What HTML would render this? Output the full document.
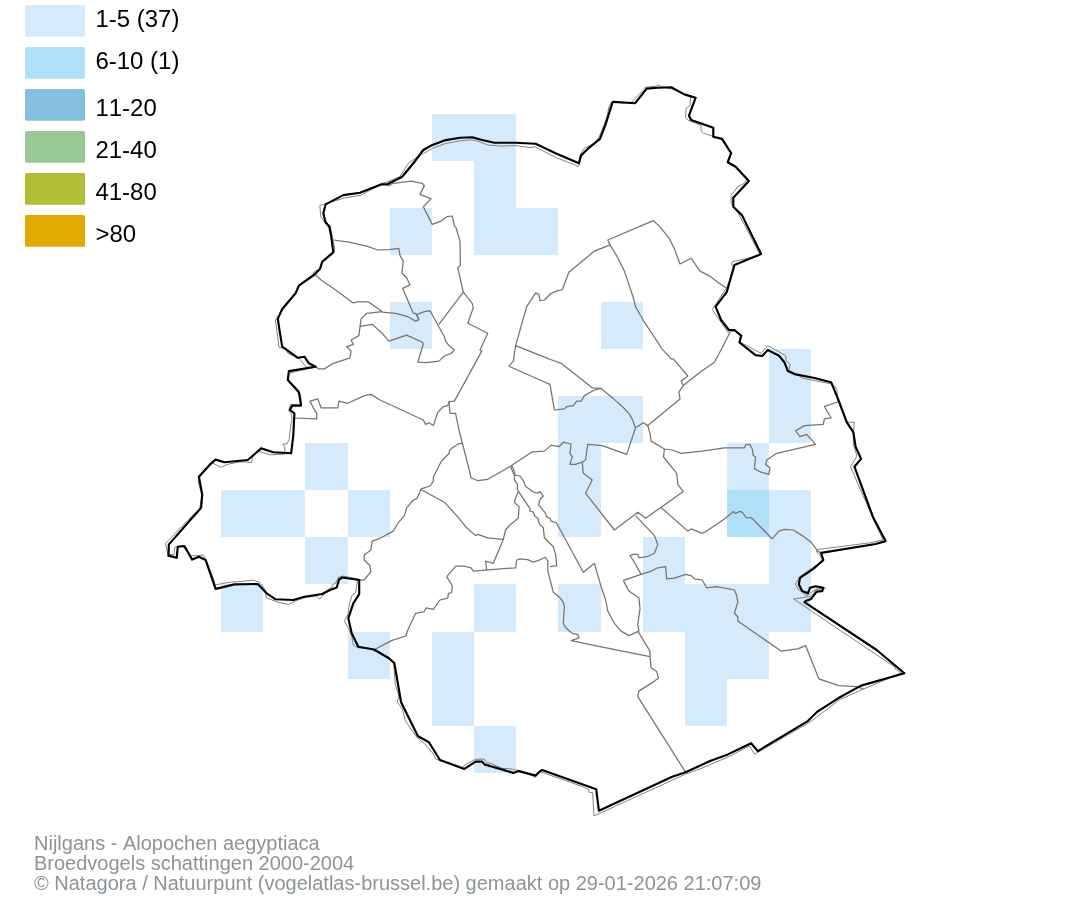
<!DOCTYPE html>
<html><head><meta charset="utf-8"><style>
html,body{margin:0;padding:0;background:#fff;}
body{width:1074px;height:900px;overflow:hidden;position:relative;}
svg{position:absolute;left:0;top:0;will-change:transform;}
.lg{font-kerning:none;font-feature-settings:'kern' 0;font-family:"Liberation Sans",Arial,sans-serif;font-size:24px;fill:#000;}
.ft{font-kerning:none;font-feature-settings:'kern' 0;font-family:"Liberation Sans",Arial,sans-serif;font-size:20px;fill:#8c949a;}
</style></head><body>
<svg width="1074" height="900" viewBox="0 0 1074 900">
<g shape-rendering="crispEdges"><rect x="432" y="114" width="42" height="47" fill="#d5eafa"/><rect x="474" y="114" width="42" height="47" fill="#d5eafa"/><rect x="474" y="161" width="42" height="47" fill="#d5eafa"/><rect x="390" y="208" width="42" height="47" fill="#d5eafa"/><rect x="474" y="208" width="42" height="47" fill="#d5eafa"/><rect x="516" y="208" width="42" height="47" fill="#d5eafa"/><rect x="390" y="302" width="42" height="47" fill="#d5eafa"/><rect x="601" y="302" width="42" height="47" fill="#d5eafa"/><rect x="769" y="349" width="42" height="47" fill="#d5eafa"/><rect x="558" y="396" width="43" height="47" fill="#d5eafa"/><rect x="601" y="396" width="42" height="47" fill="#d5eafa"/><rect x="769" y="396" width="42" height="47" fill="#d5eafa"/><rect x="305" y="443" width="43" height="47" fill="#d5eafa"/><rect x="558" y="443" width="43" height="47" fill="#d5eafa"/><rect x="727" y="443" width="42" height="47" fill="#d5eafa"/><rect x="221" y="490" width="42" height="47" fill="#d5eafa"/><rect x="263" y="490" width="42" height="47" fill="#d5eafa"/><rect x="348" y="490" width="42" height="47" fill="#d5eafa"/><rect x="558" y="490" width="43" height="47" fill="#d5eafa"/><rect x="727" y="490" width="42" height="47" fill="#b0e0f8"/><rect x="769" y="490" width="42" height="47" fill="#d5eafa"/><rect x="305" y="537" width="43" height="47" fill="#d5eafa"/><rect x="643" y="537" width="42" height="47" fill="#d5eafa"/><rect x="769" y="537" width="42" height="47" fill="#d5eafa"/><rect x="221" y="584" width="42" height="48" fill="#d5eafa"/><rect x="474" y="584" width="42" height="48" fill="#d5eafa"/><rect x="558" y="584" width="43" height="48" fill="#d5eafa"/><rect x="643" y="584" width="42" height="48" fill="#d5eafa"/><rect x="685" y="584" width="42" height="48" fill="#d5eafa"/><rect x="727" y="584" width="42" height="48" fill="#d5eafa"/><rect x="769" y="584" width="42" height="48" fill="#d5eafa"/><rect x="348" y="632" width="42" height="47" fill="#d5eafa"/><rect x="432" y="632" width="42" height="47" fill="#d5eafa"/><rect x="685" y="632" width="42" height="47" fill="#d5eafa"/><rect x="727" y="632" width="42" height="47" fill="#d5eafa"/><rect x="432" y="679" width="42" height="47" fill="#d5eafa"/><rect x="685" y="679" width="42" height="47" fill="#d5eafa"/><rect x="474" y="726" width="42" height="47" fill="#d5eafa"/></g>
<g fill="none" stroke="#7c7268" stroke-width="1.25" stroke-linejoin="round">
<polyline points="381.1,184.4 388.9,185.6 393.3,183.3 411.1,181.1 422.2,183.3 424.4,185.6 420.0,194.4 431.1,198.9 423.3,206.7 432.2,224.4 441.1,221.1 446.7,216.7 452.2,216.0 454.4,225.6 456.0,227.8 460.0,241.1 460.4,265.6 457.8,267.8 463.3,292.2"/>
<polyline points="463.3,292.2 438.9,324.4"/>
<polyline points="463.3,292.2 472.2,303.3 473.3,307.8 467.8,323.3 487.8,333.3 480.0,350.0 481.8,351.1 454.4,401.1 448.9,401.6 450.0,413.3 455.6,413.3 458.9,430.0 466.7,460.0 471.1,477.8 477.8,480.7 487.8,479.3 508.9,467.3 532.2,451.8 544.4,451.1 551.1,445.1 558.9,446.7 563.3,442.2 571.1,444.0 570.0,453.3 572.2,456.7 570.0,464.4 575.6,464.4 582.2,462.2"/>
<polyline points="333.3,240.0 348.9,242.2 366.7,246.2 377.8,250.0 388.9,249.6 398.9,248.4 400.0,255.6 403.3,261.1 401.8,273.3 406.7,277.8 410.0,284.9 402.7,288.4 413.3,313.3 415.6,313.3 418.9,319.6"/>
<polyline points="382.2,312.2 395.6,313.3 407.8,316.7 415.6,321.1 418.9,319.6 416.7,314.4 424.4,311.6 430.0,310.7 444.4,336.7 445.6,341.1 448.9,345.6 454.4,350.0 451.1,353.3 444.4,356.0 438.9,361.1 426.7,362.7 417.8,362.2 423.3,344.0 422.2,342.2 406.7,335.1 388.9,341.1 382.2,333.3 372.2,324.4 364.4,325.6 360.0,326.7"/>
<polyline points="314.4,274.4 317.8,276.7 321.1,280.0 335.6,290.0 353.3,302.9 357.8,301.8 366.7,301.8 368.9,302.2 382.2,311.6"/>
<polyline points="382.2,311.6 366.7,313.3 361.1,318.9 360.0,326.7 358.9,335.6 351.1,340.0 353.3,344.4 346.7,346.7 351.1,351.1 350.0,357.8 333.3,363.3 324.4,368.9 318.9,368.9 315.6,366.7"/>
<polyline points="293.5,418.0 316.7,418.9 316.7,413.3 313.3,407.8 310.0,401.1 317.8,398.9 321.1,407.8 337.8,407.8 338.9,401.1 347.8,403.3 364.4,395.6 371.1,394.4 380.0,400.0 423.3,420.0 425.6,424.4 428.9,422.7 433.3,425.6 437.8,412.2 443.3,406.7 447.8,405.6 448.9,401.6"/>
<polyline points="462.5,443.3 458.7,443.7 452.0,448.0 449.3,450.7 449.3,453.3 441.3,461.3 437.3,469.3 433.3,477.3 433.3,481.3 430.0,486.0 421.1,488.9 416.7,498.9 413.3,500.0 406.7,507.8 404.4,515.6 397.8,523.3 393.3,531.1 381.1,537.8 372.2,541.1 370.8,550.0 364.2,555.0 364.2,560.0 370.0,565.8 370.8,571.7 364.2,580.0 359.2,580.0"/>
<polyline points="420.5,489.3 444.4,502.2 455.6,514.4 466.7,527.8 475.6,535.6 477.8,534.4 487.8,537.8 503.3,539.3"/>
<polyline points="510.6,466.2 511.8,469.5 514.4,475.2"/>
<polyline points="511.6,465.6 513.6,469.0 514.9,475.0"/>
<polyline points="514.4,475.2 514.4,479.9 517.6,484.6 517.2,489.2 518.3,491.2"/>
<polyline points="518.3,491.2 515.2,499.3 514.4,502.4 519.1,506.7 518.3,518.0 513.7,521.9 509.8,525.0 505.6,530.0 503.3,539.3 493.3,563.3 485.6,561.1 486.7,570.0"/>
<polyline points="514.4,475.2 519.9,476.0 523.8,481.4 525.3,486.1 533.1,492.0 537.4,493.1 540.1,491.6 543.2,496.2 540.1,499.3 538.6,504.8 545.6,513.3 546.3,516.4 550.2,518.8 551.0,521.1 556.4,522.7 583.3,572.2 594.4,563.3 601.1,586.7 605.6,600.0 607.8,611.1 614.4,623.3 621.1,631.1 628.9,635.6 638.9,631.1 637.8,624.4 640.0,608.9 638.9,597.8 628.9,591.1 623.3,580.4"/>
<polyline points="518.3,491.2 530.0,508.7 529.6,511.0 533.1,511.8 534.7,515.7 538.2,518.8 538.6,521.5 540.1,525.0 543.3,527.8 544.4,537.8 553.3,546.7 555.6,554.4 556.7,565.6 550.0,566.7"/>
<polyline points="446.7,576.7 454.4,567.8 455.6,566.2 464.4,566.2 471.1,567.8 473.3,571.1 515.6,567.8 516.7,560.0 520.0,558.9 527.8,559.6 533.3,562.2 537.8,560.7 545.6,557.3 547.8,561.1 547.8,571.1 553.3,592.2 560.0,597.8 563.3,602.2 564.4,606.7 563.3,623.3 565.6,627.8 572.2,633.3 577.8,634.4 578.9,637.8 571.1,640.7 600.0,646.7 650.0,656.7"/>
<polyline points="446.7,576.7 452.2,585.6 451.6,592.7 448.4,593.3 447.8,598.2 440.0,600.0 433.3,609.3 426.2,607.8 424.4,611.6 415.6,613.3 407.8,630.0 405.7,636.0 391.5,640.6 375.0,649.2"/>
<polyline points="637.8,631.1 650.0,651.1 650.0,656.7 651.1,667.8 656.7,671.6 658.4,678.2 654.4,681.1 638.9,691.1 637.8,696.7 685.6,772.2"/>
<polyline points="562.2,290.0 557.8,290.7 551.1,293.3 544.4,300.0 540.0,300.6 538.9,294.4 535.6,292.9 526.7,306.7 515.6,345.6 513.3,361.1 508.9,366.2 540.0,380.0 550.0,384.4 554.4,410.0 564.4,408.9 566.7,406.7 573.3,405.6 576.7,401.1 581.1,401.1 584.4,395.6 594.4,390.0 601.1,388.4"/>
<polyline points="562.2,290.0 568.9,272.2 594.4,251.1 610.0,244.9 607.8,240.0 653.3,220.7 658.9,225.6 668.9,237.8 674.4,248.9 680.0,264.0 691.1,258.2 700.0,271.1 708.9,275.6 717.8,282.2 726.7,288.2"/>
<polyline points="515.6,345.6 548.9,358.9 553.3,360.5 561.1,363.3 592.2,387.8 601.1,388.4 612.6,397.9 623.8,408.0 629.4,414.1 632.7,420.3 635.3,427.8"/>
<polyline points="610.0,244.9 617.8,257.8 624.4,271.1 633.3,297.8 635.6,306.7 644.4,322.2 660.0,345.6 661.1,347.8 671.1,358.9 673.3,358.9 687.8,376.0 681.1,381.1 683.3,385.6 678.9,392.2 680.0,398.9 647.8,425.6 643.3,422.7 635.6,427.8 626.7,454.4 602.2,445.6 587.8,444.4 586.7,451.1 585.6,460.0 582.2,462.2 583.3,473.3 592.2,480.0 585.6,493.3 614.4,530.0 637.8,512.2 645.6,518.2 683.3,491.6 677.8,484.4 676.7,473.3 663.5,457.0 664.4,449.0"/>
<polyline points="683.3,385.6 700.0,372.2 714.4,362.2 722.2,347.8 730.0,332.2"/>
<polyline points="647.8,425.6 650.0,433.3 651.1,441.1 664.4,449.0 672.2,450.0 681.1,453.3 702.2,451.1 724.4,447.8 744.4,447.8 745.6,444.9 750.0,444.4 752.2,448.9 753.3,455.6 755.6,456.7 754.4,468.9 761.1,472.2 768.9,474.4 770.0,467.8 765.6,464.4 766.7,460.0 776.7,453.3 815.6,444.4 806.7,434.4 800.0,436.7 795.6,430.7 804.4,425.6 823.3,424.4 824.4,418.9 831.1,417.8 824.4,406.7 838.9,401.5"/>
<polyline points="661.1,507.5 687.8,531.1 691.1,528.9 702.2,533.3 706.7,531.1 723.3,519.8 733.5,511.4 734.9,513.3 740.0,511.4 742.8,512.8 746.6,518.0 750.7,517.5 753.5,519.8 772.2,538.9 778.9,531.1 784.4,529.3 793.3,530.0 802.2,535.6 811.1,542.2 817.8,551.1 821.1,552.9"/>
<polyline points="635.6,515.6 654.4,535.6 657.8,544.4 654.4,553.3 646.7,556.7 638.9,557.8 637.8,554.4 633.3,554.4 630.0,555.6 634.4,562.2 641.1,574.4"/>
<polyline points="623.3,580.4 641.1,574.4 651.1,571.1 657.8,567.8 665.6,566.7 666.7,578.9 674.4,578.2 685.6,574.4 691.1,575.6 694.4,578.9 702.2,580.0 706.7,587.8 716.7,586.7 734.4,590.0 736.7,595.6 737.8,602.2 734.4,613.3 737.8,616.7 737.8,621.1 781.1,651.1 797.8,648.9 805.6,645.6 818.9,678.9 838.9,685.6 856.7,686.7 863.3,688.9"/>
</g>
<polygon points="380.4,184.1 389.4,181.1 399.8,176.6 408.7,163.2 414.7,158.7 423.6,153.5 432.6,148.3 444.5,143.8 459.4,140.9 471.3,139.8 477.3,140.9 487.7,145.0 501.1,146.1 516.0,145.6 530.0,147.6 534.9,146.7 555.8,157.5 575.1,164.9 578.1,166.7 579.6,163.4 579.6,156.0 584.1,148.5 593.0,144.1 599.0,137.4 606.4,118.7 609.4,105.3 611.6,102.6 624.3,103.1 631.7,102.3 639.2,94.2 644.4,89.2 645.1,87.4 657.1,86.0 657.8,84.8 661.5,86.7 674.9,89.7 681.1,92.8 690.6,97.2 690.0,105.6 686.1,108.3 685.6,117.8 687.8,120.0 701.1,125.6 701.1,131.1 703.3,133.3 711.1,135.6 714.4,137.8 720.0,138.3 725.6,145.6 732.2,152.8 730.0,154.4 727.2,161.7 735.6,166.1 741.1,172.2 746.7,179.4 744.4,183.3 737.8,186.7 731.1,195.6 731.1,203.3 738.9,214.4 760.0,254.4 757.8,256.1 732.2,261.7 731.7,265.0 734.4,267.2 726.7,287.8 712.2,309.4 727.8,332.2 734.4,331.1 742.2,335.6 740.0,342.2 761.1,353.3 767.8,345.6 785.6,355.6 786.1,360.6 790.0,364.4 788.9,370.0 803.3,378.3 822.2,382.2 832.2,383.9 836.7,388.9 837.8,401.1 846.7,422.2 854.4,422.2 853.5,432.0 853.3,444.4 857.0,456.0 850.5,466.8 873.6,519.6 883.0,539.8 870.7,542.7 817.2,549.6 816.5,552.1 819.3,554.4 823.3,561.6 813.1,567.3 799.8,576.7 795.3,584.2 798.0,589.1 806.9,595.8 815.8,589.1 825.6,588.2 816.2,589.6 811.3,596.2 803.3,597.6 793.6,598.9 830.0,623.6 894.9,667.1 895.8,669.3 901.1,672.9 894.0,676.0 863.8,688.9 840.2,699.4 808.9,722.8 754.5,754.2 749.6,745.9 727.9,757.0 700.0,768.9 685.3,774.2 593.9,816.0 592.7,792.4 589.1,792.4 588.5,789.3 580.0,785.7 539.9,771.5 535.1,777.5 531.4,775.1 518.1,770.3 508.4,768.5 502.4,768.5 491.5,763.6 486.6,762.4 484.2,759.1 475.1,759.4 466.1,764.2 462.0,767.7 435.6,759.1 433.4,754.0 424.8,743.9 416.1,736.7 405.3,720.8 402.4,709.2 397.3,702.0 398.8,696.2 395.2,683.2 393.7,663.7 387.9,657.2 384.4,655.6 377.8,652.2 368.9,648.3 357.8,647.8 353.3,645.0 351.7,636.1 348.9,629.4 344.4,620.6 347.8,615.0 349.4,603.9 352.2,595.0 355.6,592.8 356.7,585.6 357.8,578.9 343.3,576.1 338.3,577.2 335.6,583.3 332.8,584.4 332.2,586.7 326.0,591.5 323.5,594.8 319.9,599.1 316.2,596.0 304.1,597.8 295.6,600.9 288.4,604.5 277.5,602.1 266.6,597.8 264.2,588.2 259.3,582.1 253.3,580.3 240.0,581.5 231.5,582.1 223.0,583.3 215.1,585.1 213.7,579.2 206.7,561.3 203.5,555.1 190.3,555.9 182.6,545.8 174.8,547.3 174.0,555.1 167.8,553.5 165.4,543.4 187.2,520.9 199.7,508.4 202.0,496.0 198.1,481.2 202.0,472.7 212.9,463.3 220.7,467.2 228.4,464.1 240.9,461.8 251.8,462.6 252.5,457.1 258.1,451.2 270.3,454.8 284.8,454.1 284.8,446.9 282.6,444.0 286.9,444.0 289.1,439.7 290.6,426.7 292.0,419.4 291.3,413.7 288.4,410.8 290.6,404.3 301.4,405.0 300.7,396.3 297.8,389.1 286.9,379.0 289.1,373.2 300.7,370.3 316.6,366.7 306.4,367.4 300.7,360.2 299.2,358.8 287.7,353.0 286.2,349.4 279.0,347.2 275.4,319.9 281.1,312.3 295.2,294.4 299.0,285.9 315.1,275.5 313.2,272.6 320.8,267.9 321.7,263.2 333.1,253.7 334.9,249.9 330.2,225.4 325.5,223.5 320.8,216.9 319.8,205.5 344.4,198.0 361.4,195.1" fill="none" stroke="#8a8178" stroke-width="1" stroke-linejoin="round"/>
<polygon points="381.1,184.4 387.8,184.0 402.2,176.7 413.3,163.3 423.3,150.0 431.1,145.6 444.4,140.4 460.0,137.8 472.2,137.3 482.2,140.0 494.4,142.7 515.6,142.7 535.6,143.8 555.6,153.3 578.9,163.3 581.1,155.6 588.9,147.8 600.0,138.9 605.6,124.4 612.7,101.8 635.2,103.2 646.7,88.6 657.8,87.8 671.1,87.3 684.4,94.4 695.6,97.8 688.9,115.6 691.1,120.0 713.3,127.8 713.3,136.7 722.2,138.9 731.1,153.3 727.8,162.2 735.6,166.7 748.9,181.1 733.3,197.8 733.3,206.7 742.2,215.6 761.1,254.0 734.4,265.1 726.7,292.2 715.6,306.7 721.1,320.0 728.9,330.0 734.4,330.0 741.1,335.6 739.5,342.5 755.6,355.1 762.2,356.0 767.8,350.0 778.9,355.6 784.4,362.2 787.8,371.1 795.6,374.4 813.3,377.8 831.1,382.2 838.9,401.1 846.7,422.2 853.3,432.2 855.6,446.7 861.1,458.9 854.4,466.7 873.3,517.8 885.6,541.1 875.6,544.0 821.1,552.9 823.3,560.0 813.3,568.9 800.0,577.8 798.9,584.4 802.2,591.1 807.8,593.3 810.0,587.8 815.6,586.2 823.3,587.8 822.2,591.1 816.7,591.6 811.1,598.9 805.6,601.1 804.4,602.2 876.7,650.0 904.4,673.3 861.1,685.6 838.9,697.8 816.7,712.2 807.8,721.1 757.8,751.1 751.1,743.3 727.8,754.4 710.0,761.1 685.6,772.2 672.2,776.7 598.9,810.7 596.2,789.3 542.2,770.0 538.9,772.2 535.6,775.6 518.9,771.1 513.3,772.9 484.4,764.4 482.2,761.6 475.6,761.6 464.4,768.9 440.0,760.0 428.9,742.2 417.8,736.0 401.1,702.2 394.4,663.3 389.0,658.2 374.0,649.5 358.3,646.7 351.7,633.3 348.3,618.3 353.3,603.3 359.2,594.2 359.2,580.0 342.5,577.5 339.2,579.2 336.7,587.5 330.0,590.0 322.2,594.0 304.4,596.7 293.3,600.0 275.6,599.3 266.7,593.3 257.8,584.0 234.4,584.4 215.6,588.9 205.6,560.0 198.9,556.7 192.2,559.6 184.4,546.0 177.8,546.7 176.7,557.8 168.4,555.6 168.9,544.4 201.1,507.8 202.2,494.4 198.9,476.7 211.1,463.3 215.6,459.6 224.4,462.2 247.8,460.0 261.1,448.4 273.3,452.2 291.1,453.3 293.3,435.6 294.4,413.3 290.0,410.0 292.2,405.6 301.1,405.6 298.9,392.2 287.8,380.0 288.9,371.1 315.6,366.7 308.9,363.3 304.4,356.7 297.8,357.8 282.2,346.7 280.0,333.3 277.8,318.9 282.2,308.9 295.6,293.3 298.9,285.6 314.4,274.4 320.0,268.9 322.2,261.8 333.3,252.2 331.1,235.6 329.3,226.7 325.6,222.2 323.3,213.3 325.6,204.4 343.3,195.1 360.0,192.7" fill="none" stroke="#000" stroke-width="2.15" stroke-linejoin="round"/>
<rect x="25" y="5" width="60" height="31.8" rx="1.5" fill="#d5eafa"/><text transform="translate(95.4,26.9) scale(1,1.025)" class="lg">1-5 (37)</text><rect x="25" y="47" width="60" height="31.8" rx="1.5" fill="#b0e0f8"/><text transform="translate(95.4,68.9) scale(1,1.025)" class="lg">6-10 (1)</text><rect x="25" y="89" width="60" height="31.8" rx="1.5" fill="#84bfdf"/><text transform="translate(95.4,115.9) scale(1,1.025)" class="lg">11-20</text><rect x="25" y="131" width="60" height="31.8" rx="1.5" fill="#98c994"/><text transform="translate(95.4,157.8) scale(1,1.025)" class="lg">21-40</text><rect x="25" y="173" width="60" height="31.8" rx="1.5" fill="#b0be37"/><text transform="translate(95.4,199.8) scale(1,1.025)" class="lg">41-80</text><rect x="25" y="215" width="60" height="31.8" rx="1.5" fill="#e0aa00"/><text transform="translate(95.4,241.8) scale(1,1.025)" class="lg">>80</text>
<text x="34" y="850" class="ft">Nijlgans - Alopochen aegyptiaca</text>
<text x="34" y="870.4" class="ft">Broedvogels schattingen 2000-2004</text>
<text x="34" y="889.8" class="ft">© Natagora / Natuurpunt (vogelatlas-brussel.be) gemaakt op 29-01-2026 21:07:09</text>
</svg>
</body></html>
